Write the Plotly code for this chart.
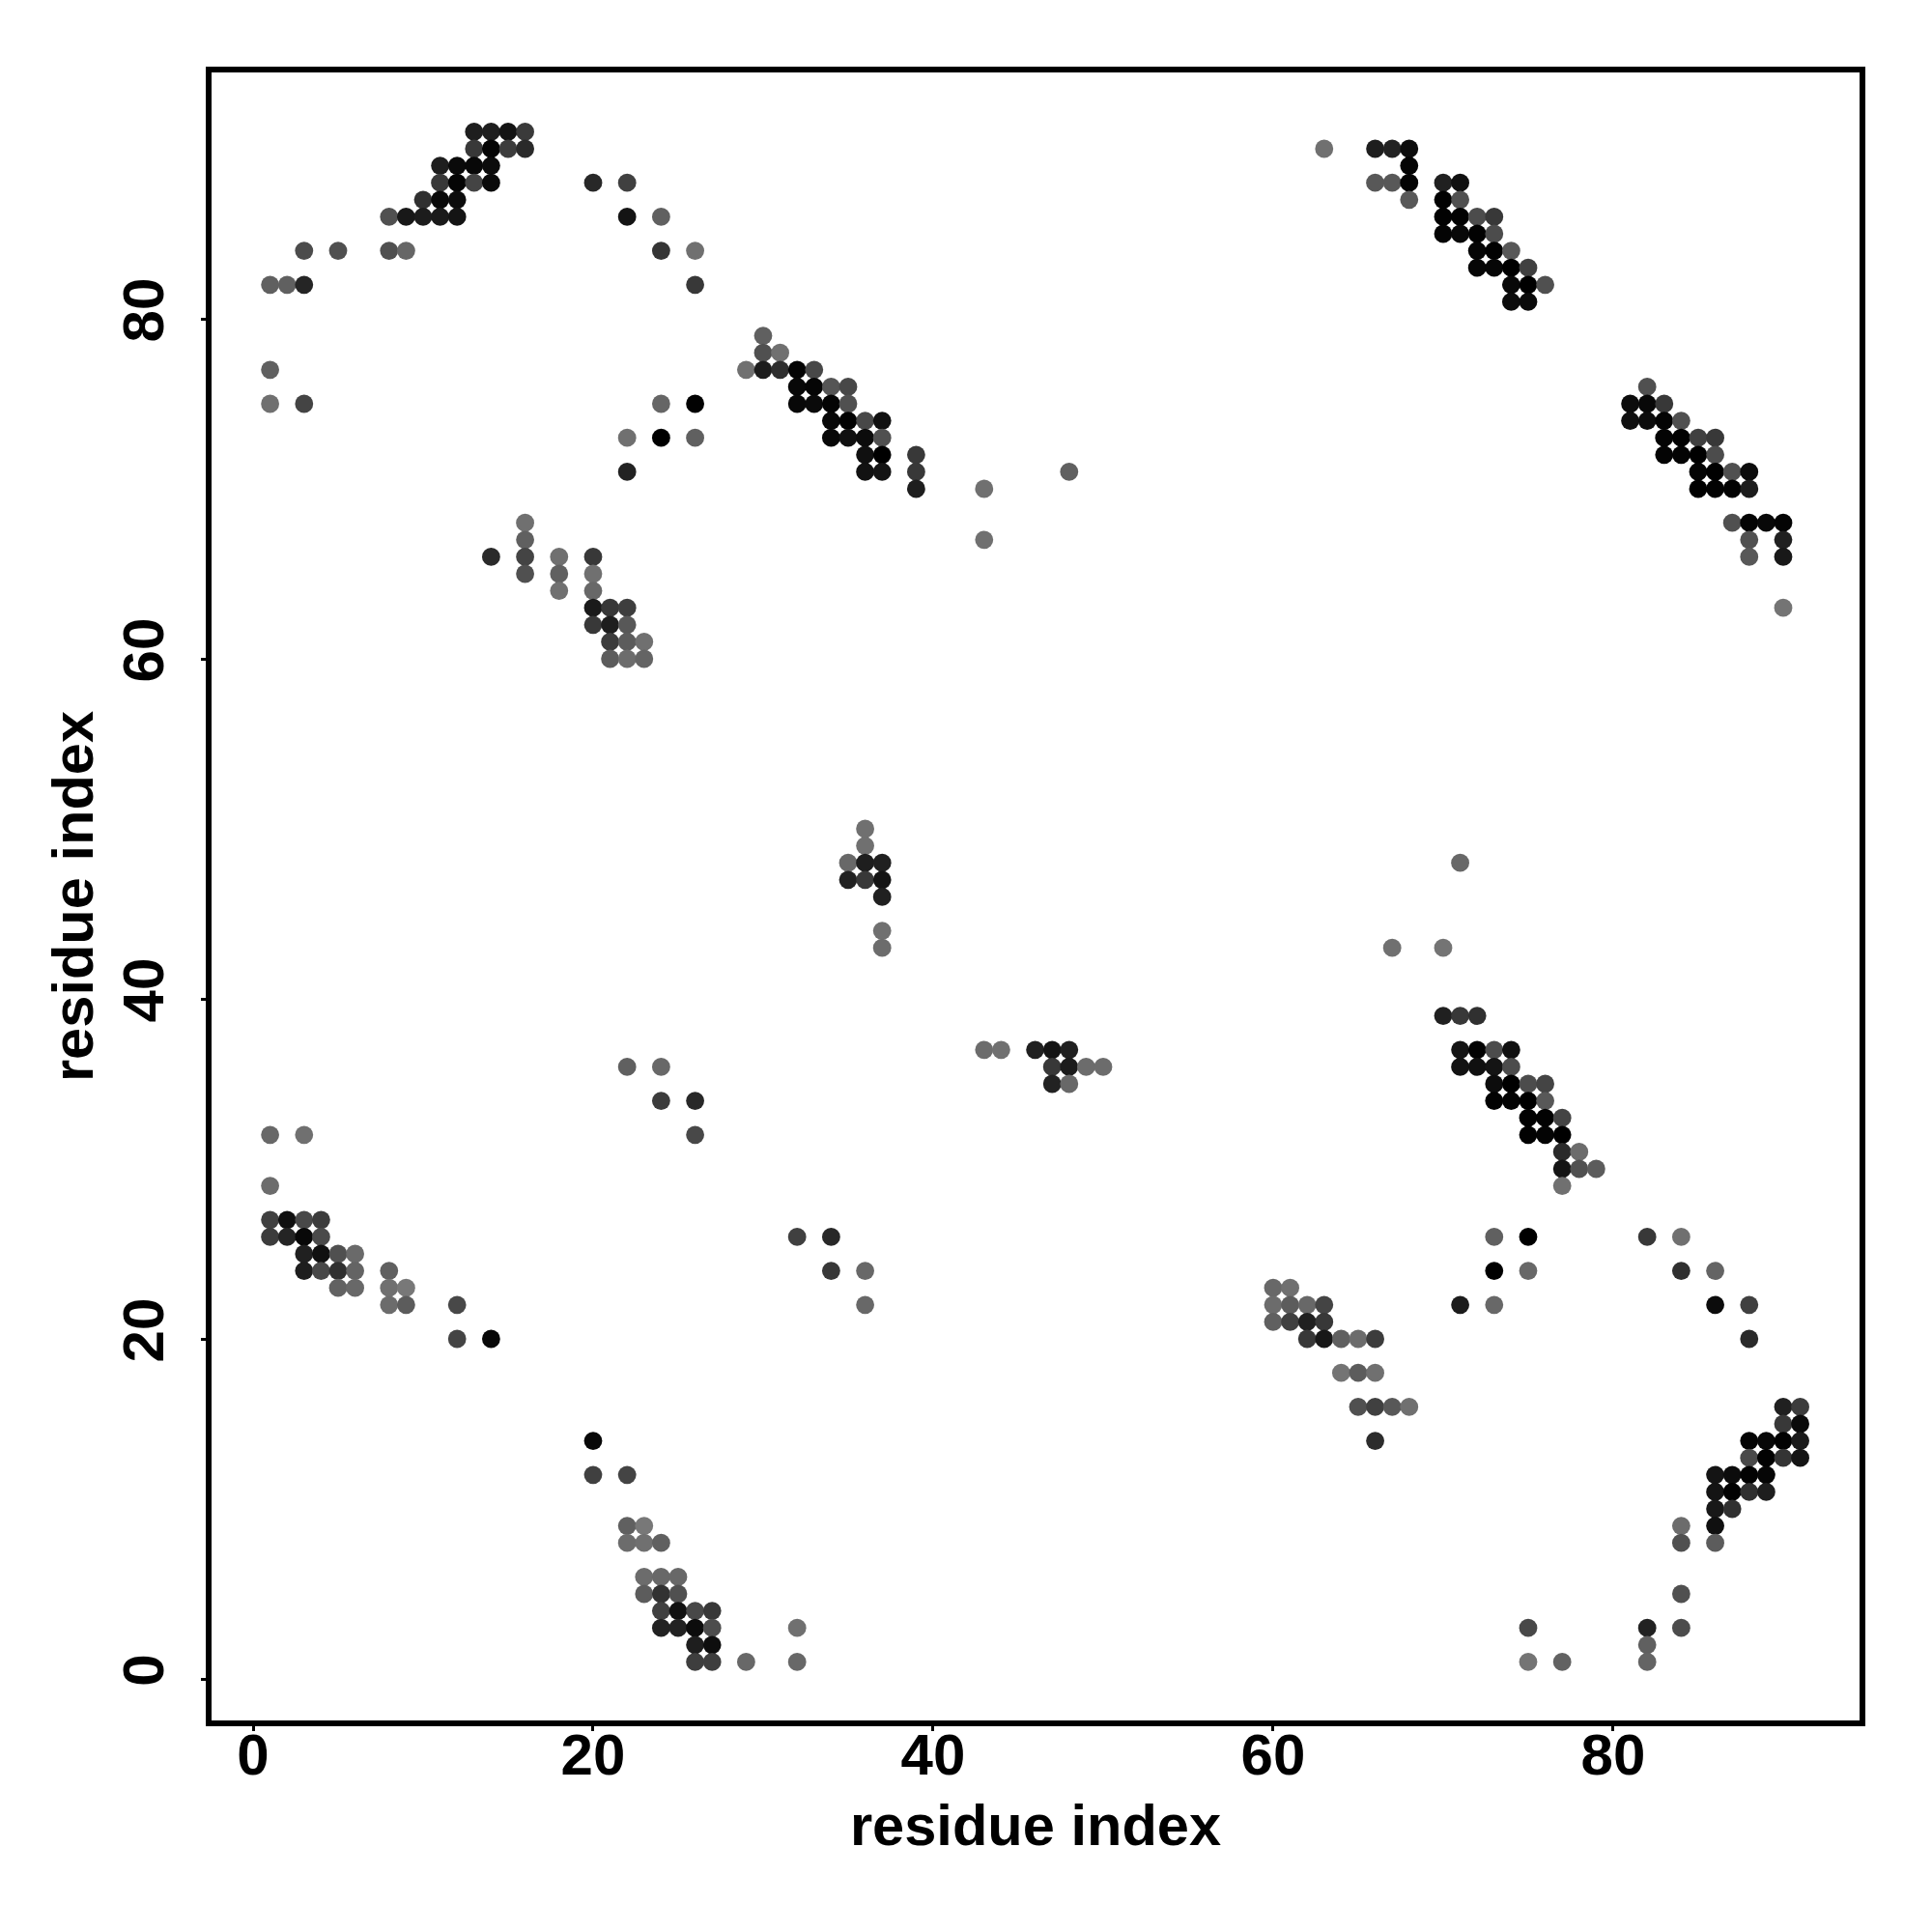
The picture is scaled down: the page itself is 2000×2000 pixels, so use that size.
import plotly.graph_objects as go

residue_x = [
    13, 14, 15, 16,
    13, 14, 15, 16, 63, 66, 67, 68,
    11, 12, 13, 14, 68,
    11, 12, 13, 14, 20, 22, 66, 67, 68, 70, 71,
    10, 11, 12, 68, 70, 71,
    8, 9, 10, 11, 12, 22, 24, 70, 71, 72, 73,
    70, 71, 72, 73,
    3, 5, 8, 9, 24, 26, 72, 73, 74,
    72, 73, 74, 75,
    1, 2, 3, 26, 74, 75, 76,
    74, 75,
    30,
    30, 31,
    1, 29, 30, 31, 32, 33,
    32, 33, 34, 35, 82,
    1, 3, 24, 26, 32, 33, 34, 35, 81, 82, 83,
    34, 35, 36, 37, 81, 82, 83, 84,
    22, 24, 26, 34, 35, 36, 37, 83, 84, 85, 86,
    36, 37, 39, 83, 84, 85, 86,
    22, 36, 37, 39, 48, 85, 86, 87, 88,
    39, 43, 85, 86, 87, 88,
    16, 87, 88, 89, 90,
    16, 43, 88, 90,
    14, 16, 18, 20, 88, 90,
    16, 18, 20,
    18, 20,
    20, 21, 22, 90,
    20, 21, 22,
    21, 22, 23,
    21, 22, 23,
    36,
    36,
    35, 36, 37, 71,
    35, 36, 37,
    37,
    37,
    37, 67, 70,
    70, 71, 72,
    43, 44, 46, 47, 48, 71, 72, 73, 74,
    22, 24, 47, 48, 49, 50, 71, 72, 73, 74,
    47, 48, 73, 74, 75, 76,
    24, 26, 73, 74, 75, 76,
    75, 76, 77,
    1, 3, 26, 75, 76, 77,
    77, 78,
    77, 78, 79,
    1, 77,
    1, 2, 3, 4,
    1, 2, 3, 4, 32, 34, 73, 75, 82, 84,
    3, 4, 5, 6,
    3, 4, 5, 6, 8, 34, 36, 73, 75, 84, 86,
    5, 6, 8, 9, 60, 61,
    8, 9, 12, 36, 60, 61, 62, 63, 71, 73, 86, 88,
    60, 61, 62, 63,
    12, 14, 62, 63, 64, 65, 66, 88,
    64, 65, 66,
    65, 66, 67, 68, 90, 91,
    90, 91,
    20, 66, 88, 89, 90, 91,
    88, 89, 90, 91,
    20, 22, 86, 87, 88, 89,
    86, 87, 88, 89,
    86, 87,
    22, 23, 84, 86,
    22, 23, 24, 84, 86,
    23, 24, 25,
    23, 24, 25, 84,
    24, 25, 26, 27,
    24, 25, 26, 27, 32, 75, 82, 84,
    26, 27, 82,
    26, 27, 29, 32, 75, 77, 82,
]

residue_y = [
    91, 91, 91, 91,
    90, 90, 90, 90, 90, 90, 90, 90,
    89, 89, 89, 89, 89,
    88, 88, 88, 88, 88, 88, 88, 88, 88, 88, 88,
    87, 87, 87, 87, 87, 87,
    86, 86, 86, 86, 86, 86, 86, 86, 86, 86, 86,
    85, 85, 85, 85,
    84, 84, 84, 84, 84, 84, 84, 84, 84,
    83, 83, 83, 83,
    82, 82, 82, 82, 82, 82, 82,
    81, 81,
    79,
    78, 78,
    77, 77, 77, 77, 77, 77,
    76, 76, 76, 76, 76,
    75, 75, 75, 75, 75, 75, 75, 75, 75, 75, 75,
    74, 74, 74, 74, 74, 74, 74, 74,
    73, 73, 73, 73, 73, 73, 73, 73, 73, 73, 73,
    72, 72, 72, 72, 72, 72, 72,
    71, 71, 71, 71, 71, 71, 71, 71, 71,
    70, 70, 70, 70, 70, 70,
    68, 68, 68, 68, 68,
    67, 67, 67, 67,
    66, 66, 66, 66, 66, 66,
    65, 65, 65,
    64, 64,
    63, 63, 63, 63,
    62, 62, 62,
    61, 61, 61,
    60, 60, 60,
    50,
    49,
    48, 48, 48, 48,
    47, 47, 47,
    46,
    44,
    43, 43, 43,
    39, 39, 39,
    37, 37, 37, 37, 37, 37, 37, 37, 37,
    36, 36, 36, 36, 36, 36, 36, 36, 36, 36,
    35, 35, 35, 35, 35, 35,
    34, 34, 34, 34, 34, 34,
    33, 33, 33,
    32, 32, 32, 32, 32, 32,
    31, 31,
    30, 30, 30,
    29, 29,
    27, 27, 27, 27,
    26, 26, 26, 26, 26, 26, 26, 26, 26, 26,
    25, 25, 25, 25,
    24, 24, 24, 24, 24, 24, 24, 24, 24, 24, 24,
    23, 23, 23, 23, 23, 23,
    22, 22, 22, 22, 22, 22, 22, 22, 22, 22, 22, 22,
    21, 21, 21, 21,
    20, 20, 20, 20, 20, 20, 20, 20,
    18, 18, 18,
    16, 16, 16, 16, 16, 16,
    15, 15,
    14, 14, 14, 14, 14, 14,
    13, 13, 13, 13,
    12, 12, 12, 12, 12, 12,
    11, 11, 11, 11,
    10, 10,
    9, 9, 9, 9,
    8, 8, 8, 8, 8,
    6, 6, 6,
    5, 5, 5, 5,
    4, 4, 4, 4,
    3, 3, 3, 3, 3, 3, 3, 3,
    2, 2, 2,
    1, 1, 1, 1, 1, 1, 1,
]

gray_level = [
    0x1e, 0x1e, 0x14, 0x3a,
    0x38, 0x05, 0x3c, 0x2a, 0x70, 0x1e, 0x22, 0x0c,
    0x1e, 0x0a, 0x08, 0x0c, 0x04,
    0x38, 0x05, 0x44, 0x0a, 0x28, 0x40, 0x58, 0x58, 0x04, 0x20, 0x10,
    0x30, 0x0a, 0x0c, 0x58, 0x02, 0x50,
    0x50, 0x18, 0x1c, 0x1a, 0x14, 0x14, 0x60, 0x02, 0x02, 0x4c, 0x38,
    0x04, 0x08, 0x02, 0x4c,
    0x4c, 0x50, 0x50, 0x66, 0x35, 0x70, 0x06, 0x02, 0x58,
    0x06, 0x06, 0x00, 0x40,
    0x60, 0x60, 0x25, 0x38, 0x08, 0x00, 0x50,
    0x0c, 0x0a,
    0x60,
    0x50, 0x70,
    0x60, 0x70, 0x1c, 0x2e, 0x04, 0x48,
    0x08, 0x05, 0x55, 0x48, 0x50,
    0x70, 0x44, 0x66, 0x02, 0x08, 0x0a, 0x04, 0x50, 0x0c, 0x08, 0x38,
    0x08, 0x02, 0x48, 0x10, 0x10, 0x0c, 0x04, 0x50,
    0x70, 0x00, 0x60, 0x08, 0x10, 0x0c, 0x50, 0x04, 0x02, 0x40, 0x38,
    0x10, 0x00, 0x38, 0x04, 0x04, 0x00, 0x4c,
    0x22, 0x12, 0x14, 0x38, 0x60, 0x04, 0x00, 0x50, 0x0c,
    0x1e, 0x70, 0x00, 0x02, 0x02, 0x1c,
    0x70, 0x50, 0x04, 0x08, 0x04,
    0x60, 0x70, 0x50, 0x20,
    0x2a, 0x44, 0x70, 0x38, 0x58, 0x18,
    0x50, 0x60, 0x70,
    0x70, 0x68,
    0x1a, 0x38, 0x3e, 0x74,
    0x38, 0x1e, 0x58,
    0x3c, 0x5c, 0x70,
    0x5c, 0x6c, 0x64,
    0x70,
    0x70,
    0x68, 0x1e, 0x20, 0x68,
    0x22, 0x38, 0x14,
    0x20,
    0x70,
    0x6c, 0x70, 0x74,
    0x20, 0x38, 0x30,
    0x6c, 0x70, 0x20, 0x14, 0x20, 0x14, 0x02, 0x4c, 0x10,
    0x60, 0x68, 0x38, 0x1c, 0x6c, 0x6c, 0x12, 0x10, 0x14, 0x4c,
    0x22, 0x68, 0x0c, 0x00, 0x4c, 0x44,
    0x3c, 0x28, 0x02, 0x04, 0x00, 0x58,
    0x02, 0x02, 0x44,
    0x68, 0x70, 0x48, 0x02, 0x04, 0x00,
    0x2a, 0x6c,
    0x14, 0x50, 0x5c,
    0x6c, 0x70,
    0x40, 0x10, 0x48, 0x3c,
    0x3c, 0x24, 0x08, 0x4a, 0x40, 0x28, 0x60, 0x00, 0x38, 0x70,
    0x20, 0x10, 0x50, 0x6a,
    0x1e, 0x48, 0x30, 0x64, 0x60, 0x38, 0x68, 0x00, 0x68, 0x30, 0x64,
    0x62, 0x68, 0x70, 0x78, 0x68, 0x70,
    0x6c, 0x5c, 0x48, 0x68, 0x6c, 0x5c, 0x68, 0x44, 0x1c, 0x68, 0x0c, 0x40,
    0x60, 0x40, 0x20, 0x38,
    0x44, 0x08, 0x38, 0x18, 0x60, 0x6c, 0x3c, 0x2a,
    0x74, 0x5c, 0x70,
    0x50, 0x40, 0x58, 0x70, 0x20, 0x3c,
    0x38, 0x0a,
    0x08, 0x2c, 0x04, 0x08, 0x02, 0x1a,
    0x4a, 0x02, 0x34, 0x14,
    0x40, 0x44, 0x14, 0x0c, 0x02, 0x06,
    0x14, 0x02, 0x30, 0x1e,
    0x18, 0x30,
    0x60, 0x78, 0x6c, 0x10,
    0x6c, 0x70, 0x60, 0x50, 0x5c,
    0x6c, 0x68, 0x68,
    0x5c, 0x32, 0x50, 0x50,
    0x40, 0x12, 0x48, 0x38,
    0x22, 0x22, 0x0c, 0x4c, 0x70, 0x48, 0x22, 0x4c,
    0x1e, 0x0e, 0x60,
    0x3e, 0x3e, 0x68, 0x68, 0x74, 0x62, 0x64,
]

tick_values = [0, 20, 40, 60, 80]
tick_labels = ["0", "20", "40", "60", "80"]
axis_label = "residue index"

assert len(residue_x) == len(residue_y) == len(gray_level), (len(residue_x), len(residue_y), len(gray_level))

FONT = "Liberation Sans"

fig = go.Figure(
    go.Scatter(
        x=residue_x,
        y=residue_y,
        mode="markers",
        marker=dict(
            size=18.8,
            color=gray_level,
            cmin=0,
            cmax=255,
            colorscale=[[0, "#000000"], [1, "#ffffff"]],
            showscale=False,
            line=dict(width=0),
        ),
        hoverinfo="skip",
    )
)

common = dict(
    tickvals=tick_values,
    ticktext=tick_labels,
    showgrid=False,
    zeroline=False,
    showline=True,
    mirror=True,
    linecolor="black",
    linewidth=6,
    ticks="outside",
    ticklen=5,
    tickwidth=3,
    tickcolor="black",
    tickfont=dict(family=FONT, size=60, color="black", weight="bold"),
)

fig.update_xaxes(
    range=[-2.443, 94.49],
    ticklabelstandoff=-27,
    title=dict(text=axis_label, font=dict(family=FONT, size=59.6, color="black", weight="bold"), standoff=21),
    **common,
)
fig.update_yaxes(
    range=[-2.443, 94.49],
    tickangle=-90,
    ticklabelstandoff=15,
    title=dict(text=axis_label, font=dict(family=FONT, size=59.6, color="black", weight="bold"), standoff=1),
    **common,
)
fig.update_layout(
    width=1992,
    height=1992,
    margin=dict(l=211, r=75, t=67, b=219, autoexpand=False),
    paper_bgcolor="white",
    plot_bgcolor="white",
    showlegend=False,
)

fig.write_html("out.html")
